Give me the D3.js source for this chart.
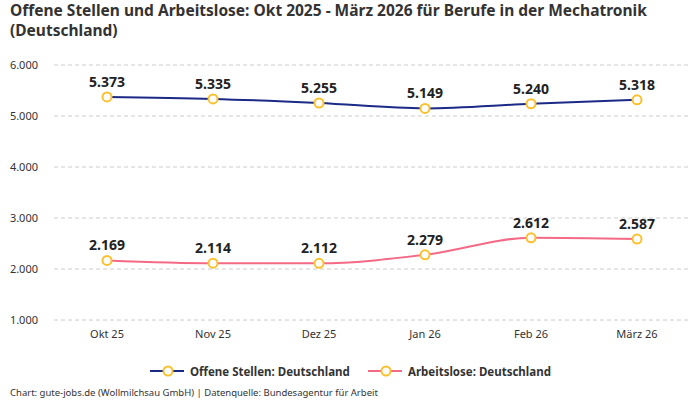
<!DOCTYPE html>
<html lang="de">
<head>
<meta charset="UTF-8">
<title>Offene Stellen und Arbeitslose Mechatronik</title>
<script src="https://d3js.org/d3.v7.min.js"></script>
<style>
  body { margin: 0; background: #fff; }
  svg { font-family: "Noto Sans", "Open Sans", sans-serif; }
</style>
</head>
<body>
<div id="chart"></div>
<script>
// Data
const months = ["Okt 25", "Nov 25", "Dez 25", "Jan 26", "Feb 26", "März 26"];
const offeneStellen = [5373, 5335, 5255, 5149, 5240, 5318];
const arbeitslose = [2169, 2114, 2112, 2279, 2612, 2587];
const yTicks = [1000, 2000, 3000, 4000, 5000, 6000];

const seriesNames = ["Offene Stellen: Deutschland", "Arbeitslose: Deutschland"];
const seriesColors = ["#1b2a86", "#f46a86"];

const W = 700, H = 400;
const svg = d3.select("#chart").append("svg")
    .attr("width", W)
    .attr("height", H);

// title (two lines)
svg.append("text")
    .attr("x", 10).attr("y", 16)
    .style("font-size", "15.5px").style("font-weight", "bold").style("fill", "#333")
    .text("Offene Stellen und Arbeitslose: Okt 2025 - März 2026 für Berufe in der Mechatronik");
svg.append("text")
    .attr("x", 10).attr("y", 36)
    .style("font-size", "15.5px").style("font-weight", "bold").style("fill", "#333")
    .text("(Deutschland)");

const x = d3.scaleBand().domain(months).range([54, 690]);
const y = d3.scaleLinear().domain([1000, 6000]).range([320, 65]);

// grid + y labels
const grid = svg.append("g");
grid.selectAll("line").data(yTicks).enter().append("line")
    .attr("x1", 54).attr("x2", 690)
    .attr("y1", d => y(d)).attr("y2", d => y(d))
    .attr("stroke", "#ccc").attr("stroke-dasharray", "4,3");
grid.selectAll("text").data(yTicks).enter().append("text")
    .attr("x", 38).attr("y", d => y(d) + 4)
    .attr("text-anchor", "end")
    .style("font-size", "11px").style("fill", "#333")
    .text(d => d3.format(",")(d).replace(",", "."));

// x axis labels
const xAxis = svg.append("g")
    .attr("transform", "translate(0,320)")
    .call(d3.axisBottom(x).tickSize(0).tickPadding(10));
xAxis.select(".domain").remove();
xAxis.selectAll("text")
    .style("font-size", "11px").style("fill", "#333")
    .style("font-family", "'Noto Sans', sans-serif");

const line = d3.line()
    .x((d, i) => x(months[i]) + x.bandwidth() / 2)
    .y(d => y(d))
    .curve(d3.curveMonotoneX);

[offeneStellen, arbeitslose].forEach((vals, s) => {
    const g = svg.append("g");
    g.append("path")
        .datum(vals)
        .attr("d", line)
        .attr("fill", "none")
        .attr("stroke", seriesColors[s])
        .attr("stroke-width", 2);
    g.selectAll("circle").data(vals).enter().append("circle")
        .attr("cx", (d, i) => x(months[i]) + x.bandwidth() / 2)
        .attr("cy", d => y(d))
        .attr("r", 4.5)
        .attr("fill", "#fff")
        .attr("stroke", "#fbc02d")
        .attr("stroke-width", 2);
    g.selectAll("text").data(vals).enter().append("text")
        .attr("x", (d, i) => x(months[i]) + x.bandwidth() / 2)
        .attr("y", d => y(d) - 10)
        .attr("text-anchor", "middle")
        .style("font-size", "14px").style("font-weight", "bold").style("fill", "#222")
        .text(d => d3.format(",")(d).replace(",", "."));
});

// legend
const legendX = [150, 368];
seriesNames.forEach((name, s) => {
    const lg = svg.append("g").attr("transform", `translate(${legendX[s]},371)`);
    lg.append("line").attr("x1", 0).attr("x2", 34)
        .attr("stroke", seriesColors[s]).attr("stroke-width", 2);
    lg.append("circle").attr("cx", 18).attr("r", 4.5)
        .attr("fill", "#fff").attr("stroke", "#fbc02d").attr("stroke-width", 2);
    lg.append("text").attr("x", 40).attr("y", 4.5)
        .style("font-size", "11.5px").style("font-weight", "bold").style("fill", "#333")
        .text(name);
});

// footer
svg.append("text")
    .attr("x", 10).attr("y", 396)
    .style("font-size", "9.5px").style("fill", "#333")
    .text("Chart: gute-jobs.de (Wollmilchsau GmbH) | Datenquelle: Bundesagentur für Arbeit");
</script>
</body>
</html>
